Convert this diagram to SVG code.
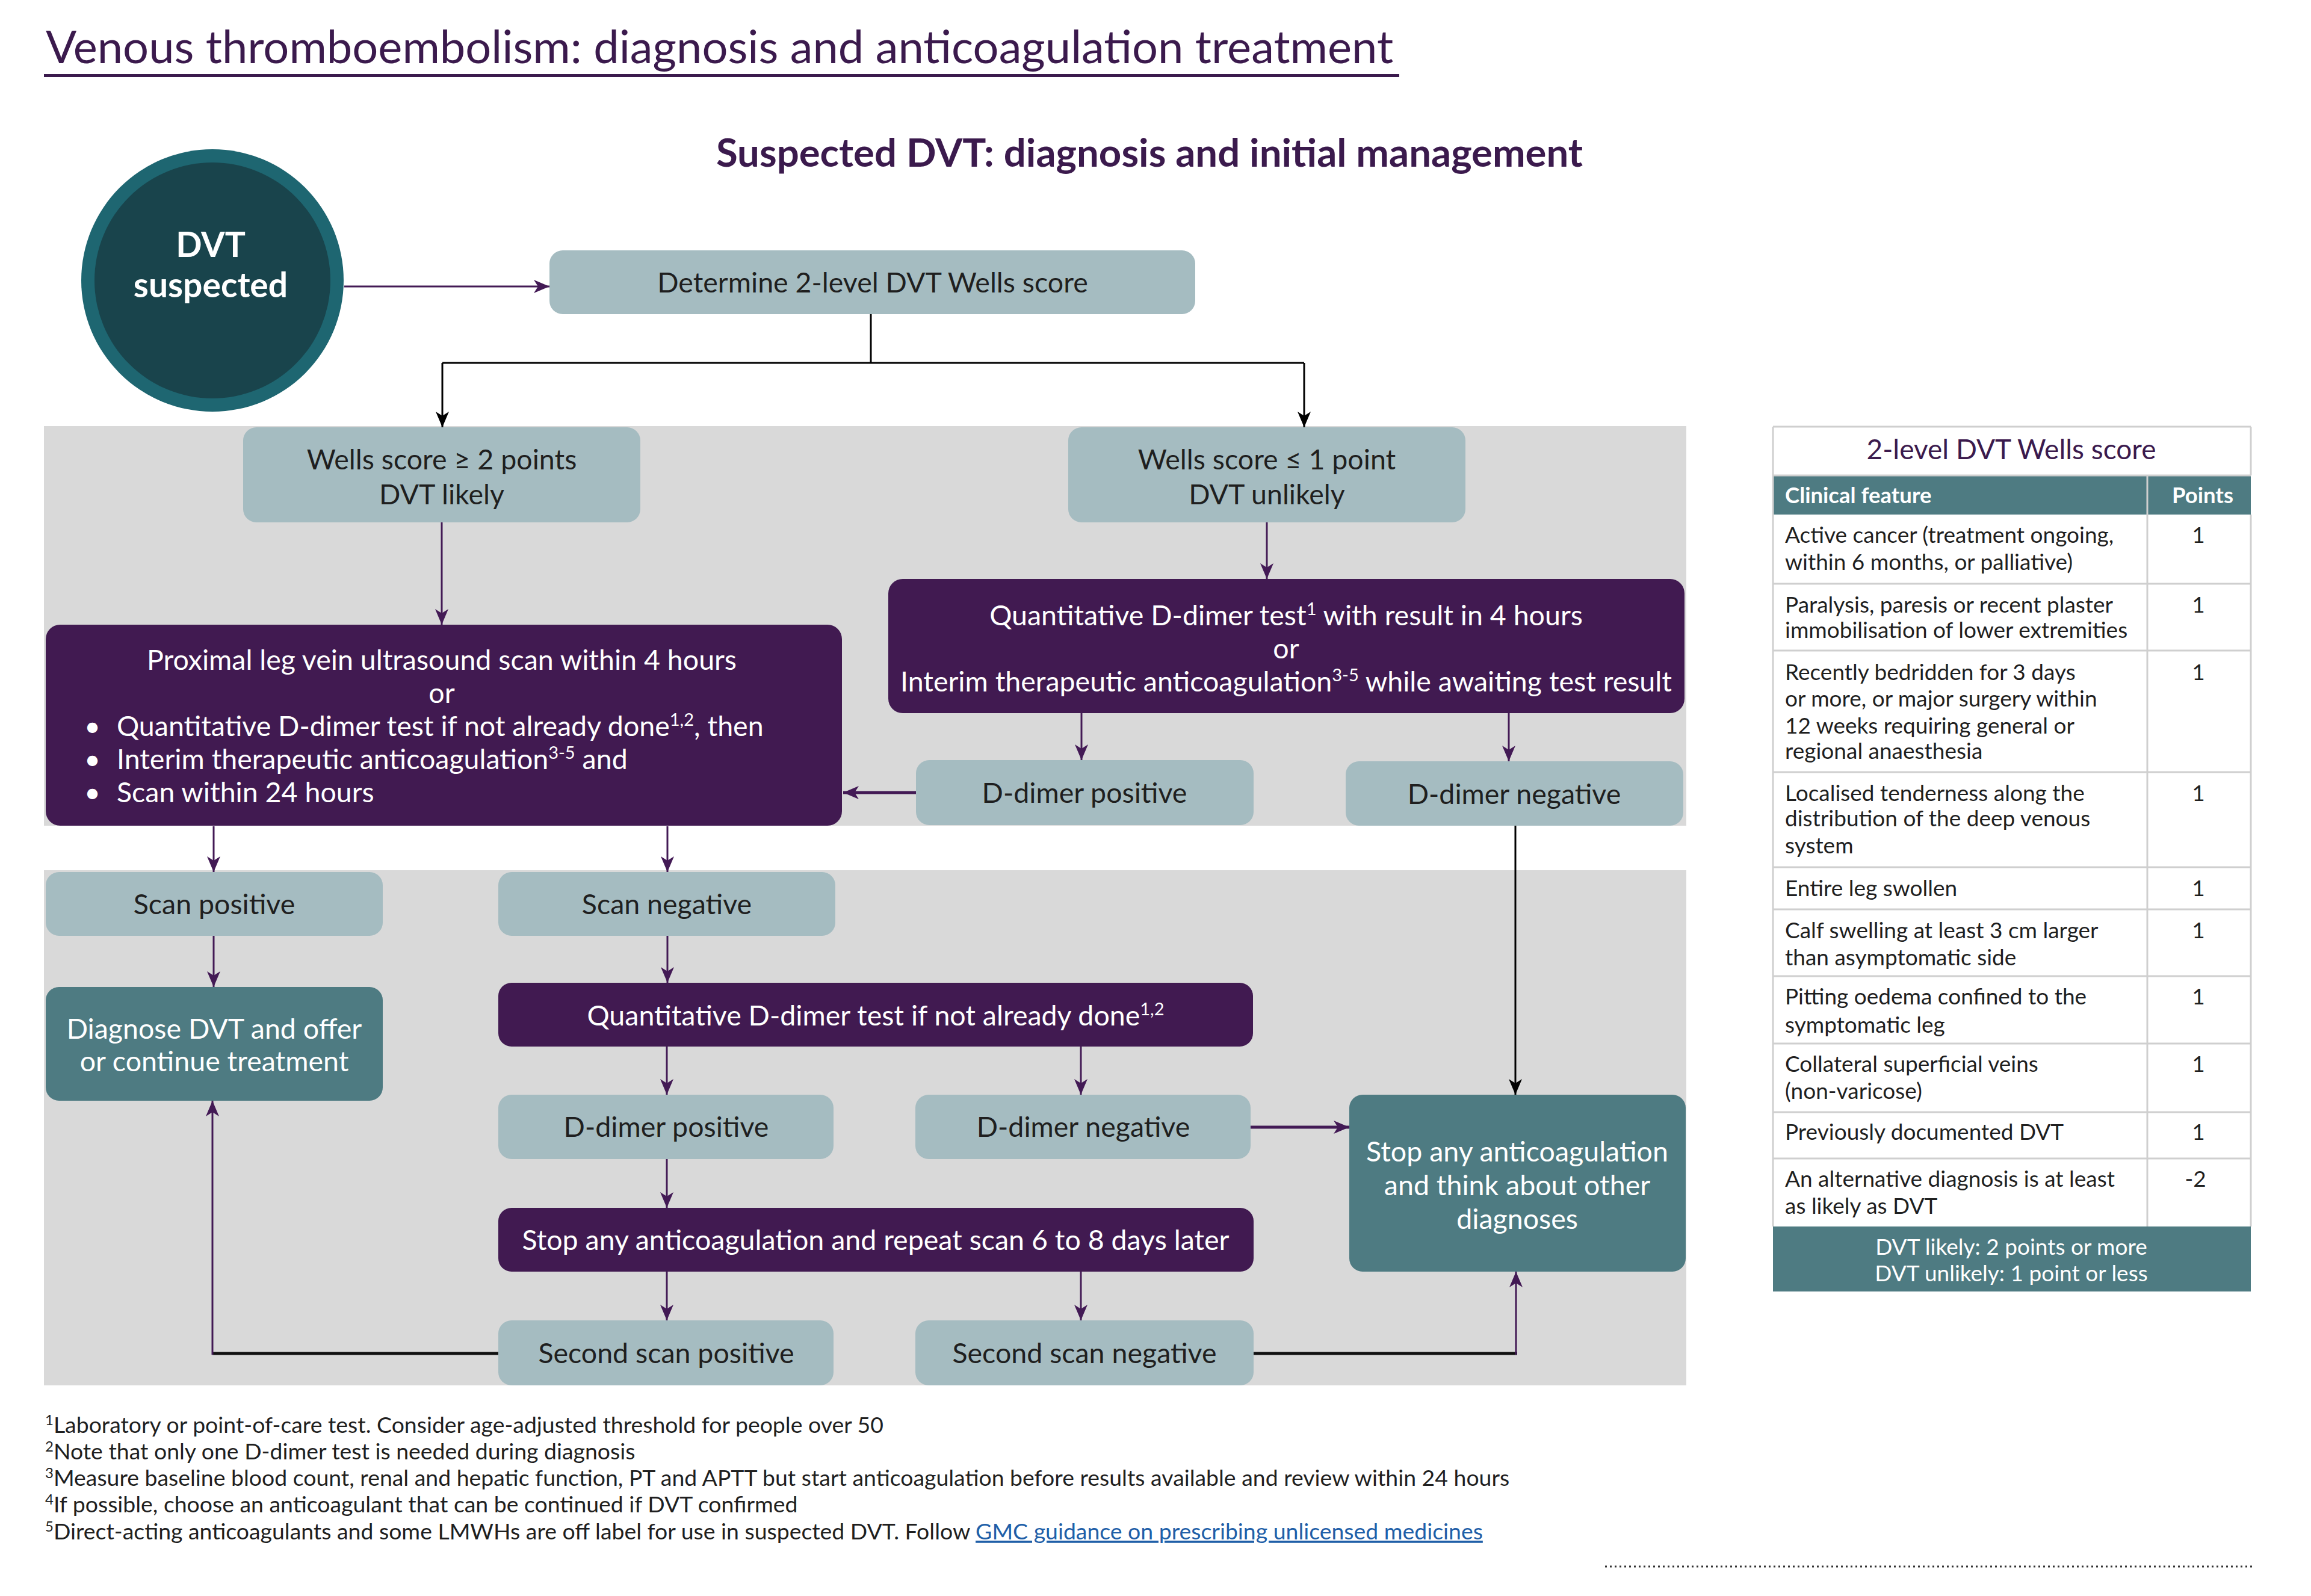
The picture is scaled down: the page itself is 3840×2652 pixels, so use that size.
<svg xmlns="http://www.w3.org/2000/svg" width="3840" height="2652" viewBox="0 0 3840 2652">
<defs>
<style>
text{font-family:Lato,"Open Sans","Liberation Sans",sans-serif}
.light{fill:#a5bcc1}
.purple{fill:#411a51}
.teal{fill:#4e7b82}
.panel{fill:#d9d9d9}
.nt{font-size:46.5px;fill:#1f1f1f;text-anchor:middle}
.wt{font-size:46.5px;fill:#ffffff;text-anchor:middle}
.wl{font-size:46.5px;fill:#ffffff}
.sup{font-size:29px}
.lp{stroke:#431a55;stroke-width:3;fill:none}
.lpt{stroke:#431a55;stroke-width:5;fill:none}
.lb{stroke:#000;stroke-width:3;fill:none}
.lbt{stroke:#111;stroke-width:5;fill:none}
.tb{font-size:37px;fill:#1f1f1f}
.tbc{font-size:37px;fill:#1f1f1f;text-anchor:middle}
.grid{stroke:#cfcfcf;stroke-width:3;fill:none}
.fn{font-size:37.4px;fill:#1f1f1f}
.fsup{font-size:24px}
</style>
<marker id="ap" markerUnits="userSpaceOnUse" markerWidth="28" markerHeight="22" refX="26" refY="11" orient="auto">
<path d="M0,0 L26,11 L0,22 L7,11 z" fill="#431a55"/>
</marker>
<marker id="ab" markerUnits="userSpaceOnUse" markerWidth="28" markerHeight="22" refX="26" refY="11" orient="auto">
<path d="M0,0 L26,11 L0,22 L7,11 z" fill="#000"/>
</marker>
</defs>
<rect width="3840" height="2652" fill="#ffffff"/>

<g id="title">
<text x="76" y="105" font-size="75.9" fill="#3b1a4d">Venous thromboembolism: diagnosis and anticoagulation treatment</text>
<rect x="73" y="123" width="2252" height="5" fill="#3b1a4d"/>
<text x="1910" y="277" font-size="65.3" font-weight="700" fill="#3b1a4d" text-anchor="middle">Suspected DVT: diagnosis and initial management</text>
</g>

<g id="panels">
<rect class="panel" x="73" y="708" width="2729" height="664"/>
<rect class="panel" x="73" y="1446" width="2729" height="856"/>
</g>

<g id="connectors">
<line class="lp" x1="572" y1="476" x2="913" y2="476" marker-end="url(#ap)"/>
<polyline class="lb" points="1447,522 1447,603"/>
<line class="lb" x1="735" y1="603" x2="2167" y2="603"/>
<line class="lb" x1="735" y1="603" x2="735" y2="710" marker-end="url(#ab)"/>
<line class="lb" x1="2167" y1="603" x2="2167" y2="710" marker-end="url(#ab)"/>
<line class="lp" x1="734" y1="868" x2="734" y2="1038" marker-end="url(#ap)"/>
<line class="lp" x1="2105" y1="868" x2="2105" y2="962" marker-end="url(#ap)"/>
<line class="lp" x1="1797" y1="1185" x2="1797" y2="1263" marker-end="url(#ap)"/>
<line class="lp" x1="2507" y1="1185" x2="2507" y2="1265" marker-end="url(#ap)"/>
<line class="lpt" x1="1522" y1="1317" x2="1401" y2="1317" marker-end="url(#ap)"/>
<line class="lb" x1="2518" y1="1372" x2="2518" y2="1819" marker-end="url(#ab)"/>
<line class="lp" x1="355" y1="1373" x2="355" y2="1449" marker-end="url(#ap)"/>
<line class="lp" x1="1109" y1="1373" x2="1109" y2="1449" marker-end="url(#ap)"/>
<line class="lp" x1="355" y1="1555" x2="355" y2="1640" marker-end="url(#ap)"/>
<line class="lp" x1="1109" y1="1555" x2="1109" y2="1633" marker-end="url(#ap)"/>
<line class="lp" x1="1108" y1="1739" x2="1108" y2="1819" marker-end="url(#ap)"/>
<line class="lp" x1="1796" y1="1739" x2="1796" y2="1819" marker-end="url(#ap)"/>
<line class="lpt" x1="2078" y1="1873" x2="2242" y2="1873" marker-end="url(#ap)"/>
<line class="lp" x1="1108" y1="1926" x2="1108" y2="2007" marker-end="url(#ap)"/>
<line class="lp" x1="1108" y1="2113" x2="1108" y2="2194" marker-end="url(#ap)"/>
<line class="lp" x1="1796" y1="2113" x2="1796" y2="2194" marker-end="url(#ap)"/>
<line class="lbt" x1="828" y1="2249" x2="353" y2="2249"/>
<line class="lp" x1="353" y1="2251" x2="353" y2="1829" marker-end="url(#ap)"/>
<line class="lbt" x1="2083" y1="2249" x2="2521" y2="2249"/>
<line class="lp" x1="2519" y1="2251" x2="2519" y2="2113" marker-end="url(#ap)"/>
</g>

<g id="n-dvt-suspected">
<circle cx="353" cy="466" r="218" fill="#1e6671"/>
<circle cx="353" cy="466" r="196" fill="#19444c"/>
<text x="350" y="427" font-size="57" font-weight="700" fill="#fff" text-anchor="middle">DVT</text>
<text x="350" y="494" font-size="57" font-weight="700" fill="#fff" text-anchor="middle">suspected</text>
</g>

<g id="n-determine">
<rect class="light" x="913" y="416" width="1073" height="106" rx="22"/>
<text class="nt" x="1450" y="486">Determine 2-level DVT Wells score</text>
</g>

<g id="n-wells-likely">
<rect class="light" x="404" y="710" width="660" height="158" rx="22"/>
<text class="nt" x="734" y="780">Wells score ≥ 2 points</text>
<text class="nt" x="734" y="838">DVT likely</text>
</g>

<g id="n-wells-unlikely">
<rect class="light" x="1775" y="710" width="660" height="158" rx="22"/>
<text class="nt" x="2105" y="780">Wells score ≤ 1 point</text>
<text class="nt" x="2105" y="838">DVT unlikely</text>
</g>

<g id="n-ddimer-test-1">
<rect class="purple" x="1476" y="962" width="1323" height="223" rx="24"/>
<text class="wt" x="2137" y="1039">Quantitative D-dimer test<tspan class="sup" dy="-17">1</tspan><tspan dy="17"> with result in 4 hours</tspan></text>
<text class="wt" x="2137" y="1094">or</text>
<text class="wt" x="2137" y="1149">Interim therapeutic anticoagulation<tspan class="sup" dy="-17">3-5</tspan><tspan dy="17"> while awaiting test result</tspan></text>
</g>

<g id="n-proximal-scan">
<rect class="purple" x="76" y="1038" width="1323" height="334" rx="24"/>
<text class="wt" x="734" y="1113">Proximal leg vein ultrasound scan within 4 hours</text>
<text class="wt" x="734" y="1168">or</text>
<text class="wl" x="140" y="1223">•</text>
<text class="wl" x="194" y="1223">Quantitative D-dimer test if not already done<tspan class="sup" dy="-17">1,2</tspan><tspan dy="17">, then</tspan></text>
<text class="wl" x="140" y="1278">•</text>
<text class="wl" x="194" y="1278">Interim therapeutic anticoagulation<tspan class="sup" dy="-17">3-5</tspan><tspan dy="17"> and</tspan></text>
<text class="wl" x="140" y="1333">•</text>
<text class="wl" x="194" y="1333">Scan within 24 hours</text>
</g>

<g id="n-ddimer-pos-1">
<rect class="light" x="1522" y="1263" width="561" height="108" rx="22"/>
<text class="nt" x="1802" y="1334">D-dimer positive</text>
</g>

<g id="n-ddimer-neg-1">
<rect class="light" x="2236" y="1265" width="561" height="107" rx="22"/>
<text class="nt" x="2516" y="1336">D-dimer negative</text>
</g>

<g id="n-scan-pos">
<rect class="light" x="76" y="1449" width="560" height="106" rx="22"/>
<text class="nt" x="356" y="1519">Scan positive</text>
</g>

<g id="n-scan-neg">
<rect class="light" x="828" y="1449" width="560" height="106" rx="22"/>
<text class="nt" x="1108" y="1519">Scan negative</text>
</g>

<g id="n-diagnose">
<rect class="teal" x="76" y="1640" width="560" height="189" rx="22"/>
<text class="wt" x="356" y="1726">Diagnose DVT and offer</text>
<text class="wt" x="356" y="1780">or continue treatment</text>
</g>

<g id="n-ddimer-test-2">
<rect class="purple" x="828" y="1633" width="1254" height="106" rx="22"/>
<text class="wt" x="1455" y="1704">Quantitative D-dimer test if not already done<tspan class="sup" dy="-17">1,2</tspan></text>
</g>

<g id="n-ddimer-pos-2">
<rect class="light" x="828" y="1819" width="557" height="107" rx="22"/>
<text class="nt" x="1107" y="1889">D-dimer positive</text>
</g>

<g id="n-ddimer-neg-2">
<rect class="light" x="1521" y="1819" width="557" height="107" rx="22"/>
<text class="nt" x="1800" y="1889">D-dimer negative</text>
</g>

<g id="n-stop-think">
<rect class="teal" x="2242" y="1819" width="559" height="294" rx="22"/>
<text class="wt" x="2521" y="1930">Stop any anticoagulation</text>
<text class="wt" x="2521" y="1986">and think about other</text>
<text class="wt" x="2521" y="2042">diagnoses</text>
</g>

<g id="n-stop-repeat">
<rect class="purple" x="828" y="2007" width="1255" height="106" rx="22"/>
<text class="wt" x="1455" y="2077">Stop any anticoagulation and repeat scan 6 to 8 days later</text>
</g>

<g id="n-second-pos">
<rect class="light" x="828" y="2194" width="557" height="108" rx="22"/>
<text class="nt" x="1107" y="2265">Second scan positive</text>
</g>

<g id="n-second-neg">
<rect class="light" x="1521" y="2194" width="562" height="108" rx="22"/>
<text class="nt" x="1802" y="2265">Second scan negative</text>
</g>

<g id="wells-table">
<rect x="2946" y="709" width="794" height="1437" fill="#fff"/>
<rect x="2946" y="790" width="794" height="65" class="teal"/>
<rect x="2946" y="2038" width="794" height="108" class="teal"/>
<path class="grid" d="M2946,709 H3740 M2946,709 V2038 M3740,709 V790 M3740,855 V2038 M3568,790 V2038 M2946,970 H3740 M2946,1081 H3740 M2946,1283 H3740 M2946,1441 H3740 M2946,1511 H3740 M2946,1622 H3740 M2946,1734 H3740 M2946,1848 H3740 M2946,1925 H3740 M2946,790 H3740"/>
<text x="3342" y="763" font-size="46" fill="#3b1a4d" text-anchor="middle">2-level DVT Wells score</text>
<text x="2966" y="836" font-size="36.5" font-weight="700" fill="#fff">Clinical feature</text>
<text x="3660" y="836" font-size="36.5" font-weight="700" fill="#fff" text-anchor="middle">Points</text>
<text class="tb" x="2966" y="902">Active cancer (treatment ongoing,</text>
<text class="tb" x="2966" y="947">within 6 months, or palliative)</text>
<text class="tbc" x="3653" y="902">1</text>
<text class="tb" x="2966" y="1018">Paralysis, paresis or recent plaster</text>
<text class="tb" x="2966" y="1060">immobilisation of lower extremities</text>
<text class="tbc" x="3653" y="1018">1</text>
<text class="tb" x="2966" y="1130">Recently bedridden for 3 days</text>
<text class="tb" x="2966" y="1174">or more, or major surgery within</text>
<text class="tb" x="2966" y="1219">12 weeks requiring general or</text>
<text class="tb" x="2966" y="1261">regional anaesthesia</text>
<text class="tbc" x="3653" y="1130">1</text>
<text class="tb" x="2966" y="1331">Localised tenderness along the</text>
<text class="tb" x="2966" y="1373">distribution of the deep venous</text>
<text class="tb" x="2966" y="1418">system</text>
<text class="tbc" x="3653" y="1331">1</text>
<text class="tb" x="2966" y="1489">Entire leg swollen</text>
<text class="tbc" x="3653" y="1489">1</text>
<text class="tb" x="2966" y="1559">Calf swelling at least 3 cm larger</text>
<text class="tb" x="2966" y="1604">than asymptomatic side</text>
<text class="tbc" x="3653" y="1559">1</text>
<text class="tb" x="2966" y="1669">Pitting oedema confined to the</text>
<text class="tb" x="2966" y="1716">symptomatic leg</text>
<text class="tbc" x="3653" y="1669">1</text>
<text class="tb" x="2966" y="1781">Collateral superficial veins</text>
<text class="tb" x="2966" y="1826">(non-varicose)</text>
<text class="tbc" x="3653" y="1781">1</text>
<text class="tb" x="2966" y="1894">Previously documented DVT</text>
<text class="tbc" x="3653" y="1894">1</text>
<text class="tb" x="2966" y="1972">An alternative diagnosis is at least</text>
<text class="tb" x="2966" y="2017">as likely as DVT</text>
<text class="tbc" x="3648" y="1972">-2</text>
<text x="3342" y="2085" font-size="37" fill="#fff" text-anchor="middle">DVT likely: 2 points or more</text>
<text x="3342" y="2129" font-size="37" fill="#fff" text-anchor="middle">DVT unlikely: 1 point or less</text>
</g>

<g id="footnotes">
<text class="fn" x="75" y="2381"><tspan class="fsup" dy="-13">1</tspan><tspan dy="13">Laboratory or point-of-care test. Consider age-adjusted threshold for people over 50</tspan></text>
<text class="fn" x="75" y="2425"><tspan class="fsup" dy="-13">2</tspan><tspan dy="13">Note that only one D-dimer test is needed during diagnosis</tspan></text>
<text class="fn" x="75" y="2469"><tspan class="fsup" dy="-13">3</tspan><tspan dy="13">Measure baseline blood count, renal and hepatic function, PT and APTT but start anticoagulation before results available and review within 24 hours</tspan></text>
<text class="fn" x="75" y="2513"><tspan class="fsup" dy="-13">4</tspan><tspan dy="13">If possible, choose an anticoagulant that can be continued if DVT confirmed</tspan></text>
<text class="fn" x="75" y="2558"><tspan class="fsup" dy="-13">5</tspan><tspan dy="13">Direct-acting anticoagulants and some LMWHs are off label for use in suspected DVT. Follow </tspan><tspan fill="#1f5fa8" text-decoration="underline">GMC guidance on prescribing unlicensed medicines</tspan></text>
<line x1="2667" y1="2603" x2="3742" y2="2603" stroke="#333" stroke-width="3" stroke-dasharray="3,5"/>
</g>
</svg>
